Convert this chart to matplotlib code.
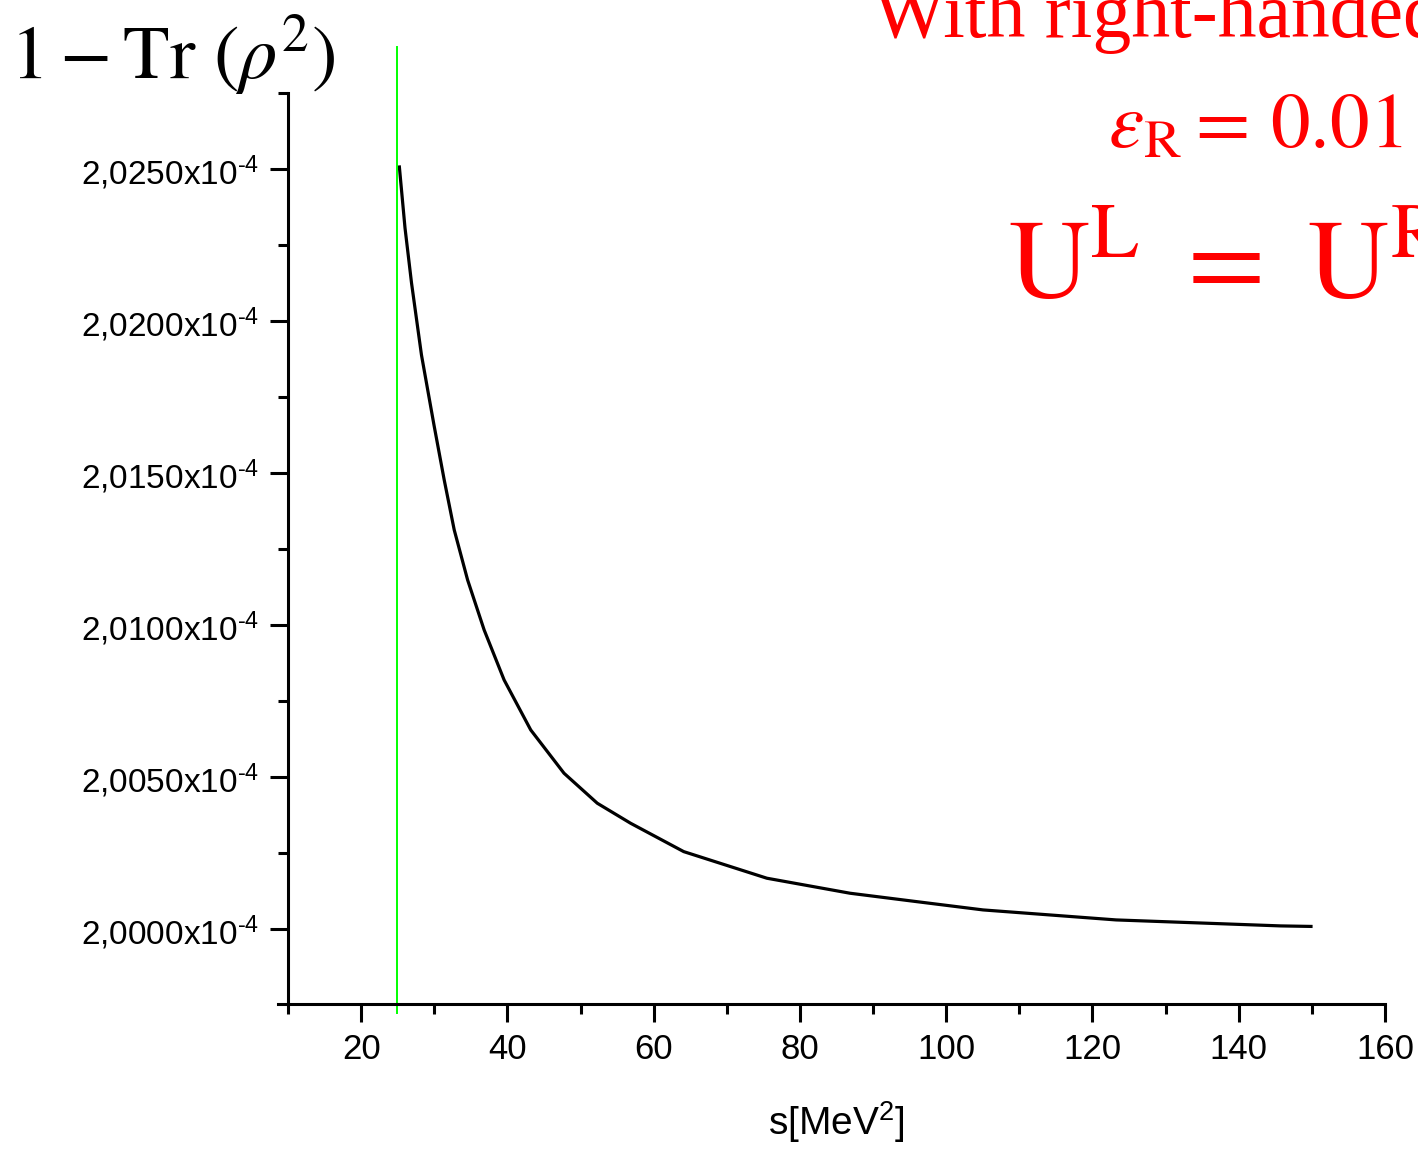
import matplotlib
matplotlib.use("Agg")
import matplotlib.pyplot as plt
from matplotlib.ticker import MultipleLocator, FuncFormatter

# s in MeV^2, 1 - Tr(rho^2) in units of 1e-4
s_vals = [25.23, 26.00, 26.89, 28.25, 29.96, 31.36, 32.73, 34.56, 36.82,
          39.55, 43.19, 47.74, 52.29, 56.84, 64.11, 75.48, 86.85, 95.95,
          105.04, 123.23, 145.74, 149.88]
purity = [2.025066, 2.023059, 2.021250, 2.018882, 2.016579, 2.014770,
          2.013125, 2.011480, 2.009836, 2.008191, 2.006546, 2.005122,
          2.004135, 2.003477, 2.002543, 2.001668, 2.001174, 2.000898,
          2.000625, 2.000296, 2.000099, 2.000082]
s_threshold = 24.9

x_ticks = [20, 40, 60, 80, 100, 120, 140, 160]
y_ticks = [2.0000, 2.0050, 2.0100, 2.0150, 2.0200, 2.0250]

plt.rcParams['mathtext.fontset'] = 'custom'
plt.rcParams['mathtext.rm'] = 'Liberation Sans'
plt.rcParams['mathtext.it'] = 'Liberation Sans:italic'
plt.rcParams['mathtext.bf'] = 'Liberation Sans:bold'

fig = plt.figure(figsize=(14.18, 11.52), dpi=100)
ax = fig.add_axes([288/1418, 1-1004/1152, (1385-288)/1418, (1004-93)/1152])

ax.plot(s_vals, purity, color='black', lw=2.3, solid_joinstyle='round')
ax.axvline(s_threshold, ymin=-0.01, ymax=1.05, color='#00ff00', lw=1.4, clip_on=False)

ax.set_xlim(10, 160)
ax.set_ylim(1.99753, 2.0275)
ax.set_xticks(x_ticks)
ax.set_yticks(y_ticks)
ax.xaxis.set_minor_locator(MultipleLocator(10))
ax.yaxis.set_minor_locator(MultipleLocator(0.0025))

def ylab(v, pos):
    return ('%.4f' % v).replace('.', ',') + r'x10$^{\text{-}4}$'

ax.yaxis.set_major_formatter(FuncFormatter(ylab))

for side in ['top', 'right']:
    ax.spines[side].set_visible(False)
for side in ['left', 'bottom']:
    ax.spines[side].set_linewidth(2.2)
ax.spines['bottom'].set_bounds(8.6, 160)

ax.tick_params(which='major', length=13, width=2.2, labelsize=24, pad=8)
ax.tick_params(axis='x', which='major', labelsize=25)
ax.tick_params(which='minor', length=7.5, width=2.2)
for lab in ax.get_xticklabels() + ax.get_yticklabels():
    lab.set_fontfamily('Liberation Sans')

ax.set_xlabel(r's[MeV$^{2}$]', fontsize=28, family='Liberation Sans', labelpad=24)

fig.text(10/1418, 1-78/1152, r'$1-\mathrm{Tr}\ (\rho^{2})$', fontsize=55,
         math_fontfamily='stix', va='baseline', ha='left')

fig.text(873/1418, 1-37/1152, 'With right-handed', fontsize=56, color='red',
         family='Liberation Serif', va='baseline', ha='left')
fig.text(1402/1418, 1-147/1152, r'$\varepsilon_{\mathrm{R}} =\,0.01$', fontsize=57,
         color='red', math_fontfamily='stix', va='baseline', ha='right')
fig.text(1008/1418, 1-298/1152, r'$\mathrm{U}^{\mathrm{L}}\ =\ \mathrm{U}^{\mathrm{R}}$',
         fontsize=81, color='red', math_fontfamily='stix', va='baseline', ha='left')

fig.savefig('out.png', dpi=100)
